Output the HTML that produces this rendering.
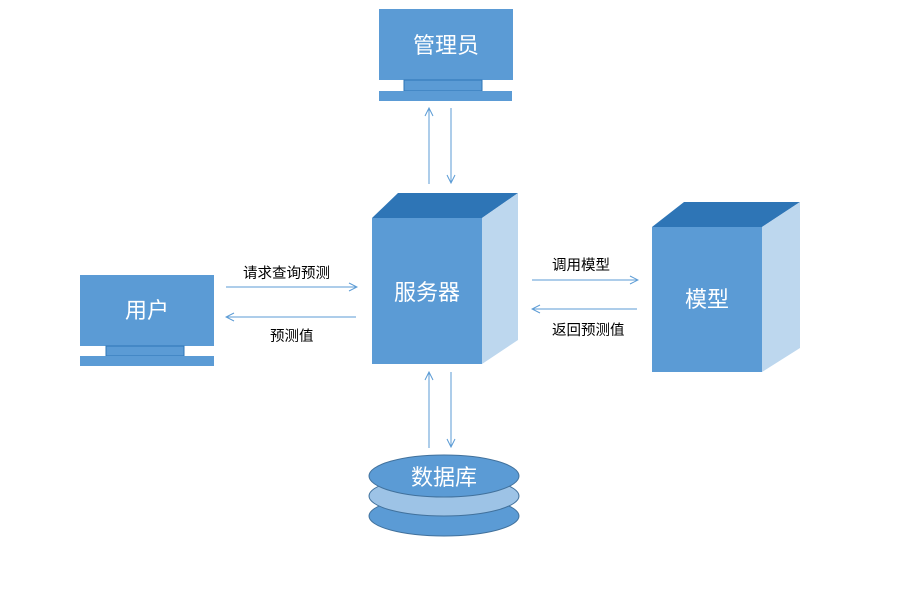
<!DOCTYPE html>
<html><head><meta charset="utf-8"><style>
body{margin:0;background:#fff;width:907px;height:586px;overflow:hidden}
svg text{font-family:"Liberation Sans","Noto Sans CJK SC",sans-serif}
</style></head><body>
<svg width="907" height="586" viewBox="0 0 907 586" xmlns="http://www.w3.org/2000/svg">
<defs><marker id="a" markerWidth="10" markerHeight="10" refX="9" refY="5" orient="auto" markerUnits="userSpaceOnUse"><path d="M1,1 L9,5 L1,9" fill="none" stroke="#5b9bd5" stroke-width="1"/></marker></defs>
<rect x="379" y="9" width="134" height="71" fill="#5b9bd5"/>
<rect x="404" y="80" width="78" height="11" fill="#5b9bd5" stroke="#2e75b6" stroke-width="1"/>
<rect x="379" y="91" width="133" height="10" fill="#5b9bd5"/>
<text x="446" y="53" font-size="22" fill="#fff" text-anchor="middle">管理员</text>
<rect x="80" y="275" width="134" height="71" fill="#5b9bd5"/>
<rect x="106" y="346" width="78" height="10" fill="#5b9bd5" stroke="#2e75b6" stroke-width="1"/>
<rect x="80" y="356" width="134" height="10" fill="#5b9bd5"/>
<text x="147" y="318" font-size="22" fill="#fff" text-anchor="middle">用户</text>
<polygon points="372,218 398,193 518,193 482,218" fill="#2e75b6"/>
<polygon points="482,218 518,193 518,340 482,364" fill="#bdd7ee"/>
<rect x="372" y="218" width="110" height="146" fill="#5b9bd5"/>
<text x="427" y="300" font-size="22" fill="#fff" text-anchor="middle">服务器</text>
<polygon points="652,227 684,202 800,202 762,227" fill="#2e75b6"/>
<polygon points="762,227 800,202 800,348 762,372" fill="#bdd7ee"/>
<rect x="652" y="227" width="110" height="145" fill="#5b9bd5"/>
<text x="707" y="307" font-size="22" fill="#fff" text-anchor="middle">模型</text>
<ellipse cx="444" cy="516" rx="75" ry="20" fill="#5b9bd5" stroke="#41719c" stroke-width="1"/>
<ellipse cx="444" cy="496" rx="75" ry="20" fill="#9dc3e6" stroke="#41719c" stroke-width="1"/>
<ellipse cx="444" cy="476" rx="75" ry="21" fill="#5b9bd5" stroke="#41719c" stroke-width="1"/>
<text x="444" y="485" font-size="22" fill="#fff" text-anchor="middle">数据库</text>
<g stroke="#5b9bd5" stroke-width="1" fill="none">
<line x1="429" y1="184" x2="429" y2="108" marker-end="url(#a)"/>
<line x1="451" y1="108" x2="451" y2="183" marker-end="url(#a)"/>
<line x1="429" y1="448" x2="429" y2="372" marker-end="url(#a)"/>
<line x1="451" y1="372" x2="451" y2="447" marker-end="url(#a)"/>
<line x1="226" y1="287" x2="357" y2="287" marker-end="url(#a)"/>
<line x1="356" y1="317" x2="226" y2="317" marker-end="url(#a)"/>
<line x1="532" y1="280" x2="638" y2="280" marker-end="url(#a)"/>
<line x1="637" y1="309" x2="532" y2="309" marker-end="url(#a)"/>
</g>
<g font-size="14.5" fill="#000">
<text x="243" y="278">请求查询预测</text>
<text x="270" y="341">预测值</text>
<text x="552" y="270">调用模型</text>
<text x="552" y="335">返回预测值</text>
</g>
</svg>
</body></html>
